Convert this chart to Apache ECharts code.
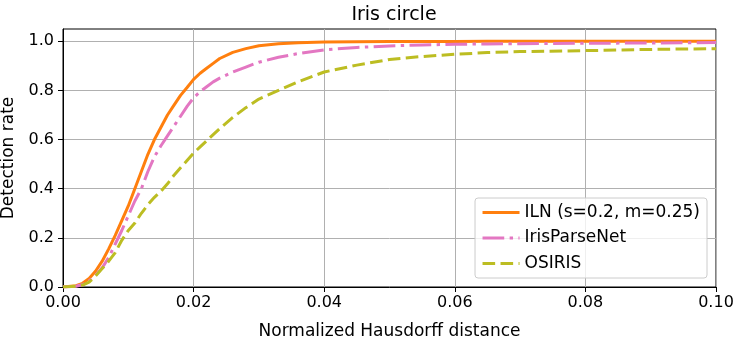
<!DOCTYPE html>
<html>
<head>
<meta charset="utf-8">
<script src="https://cdn.jsdelivr.net/npm/echarts@6/dist/echarts.min.js"></script>
<style>
  html, body { margin: 0; padding: 0; background: #fff; }
  #chart { width: 739px; height: 339px; }
</style>
</head>
<body>
<div id="chart"></div>
<script>
// values
const distance = [0, 0.002, 0.003, 0.004, 0.005, 0.006, 0.007, 0.008, 0.009, 0.010,
    0.011, 0.012, 0.013, 0.014, 0.015, 0.016, 0.017, 0.018, 0.019, 0.020,
    0.021, 0.022, 0.023, 0.024, 0.026, 0.028, 0.030, 0.033, 0.036, 0.040,
    0.045, 0.050, 0.055, 0.060, 0.065, 0.070, 0.080, 0.090, 0.100]
const iln = [0, 0.005, 0.015, 0.035, 0.065, 0.105, 0.155, 0.21, 0.27, 0.33,
    0.40, 0.47, 0.54, 0.60, 0.65, 0.70, 0.74, 0.78, 0.812, 0.845,
    0.87, 0.89, 0.91, 0.93, 0.955, 0.97, 0.982, 0.99, 0.994, 0.997,
    0.998, 0.999, 0.999, 0.999, 1.0, 1.0, 1.0, 1.0, 1.0]
const irisParseNet = [0, 0.003, 0.01, 0.025, 0.048, 0.078, 0.12, 0.175, 0.23, 0.29,
    0.35, 0.40, 0.47, 0.53, 0.575, 0.615, 0.655, 0.695, 0.735, 0.77,
    0.795, 0.815, 0.835, 0.85, 0.875, 0.895, 0.915, 0.935, 0.95, 0.965,
    0.975, 0.981, 0.985, 0.988, 0.989, 0.99, 0.992, 0.993, 0.995]
const osiris = [0, 0.003, 0.008, 0.02, 0.045, 0.075, 0.105, 0.14, 0.19, 0.23,
    0.26, 0.30, 0.335, 0.365, 0.39, 0.42, 0.455, 0.485, 0.515, 0.545,
    0.57, 0.595, 0.62, 0.645, 0.69, 0.73, 0.765, 0.80, 0.835, 0.875,
    0.903, 0.926, 0.938, 0.947, 0.954, 0.958, 0.962, 0.967, 0.97]
const xTicks = [0, 0.02, 0.04, 0.06, 0.08, 0.1]
const yTicks = [0, 0.2, 0.4, 0.6, 0.8, 1.0]

const font = 'DejaVu Sans'
const pairs = (ys) => distance.map((x, i) => [x, ys[i]])

const chart = echarts.init(document.getElementById('chart'))

const option = {
    animation: false,
    title: {
        text: 'Iris circle',
        left: 389,
        top: 1,
        textAlign: 'center',
        textStyle: { fontFamily: font, fontSize: 19, fontWeight: 'normal', color: '#000' },
    },
    grid: {
        left: 63,
        right: 23,
        top: 29,
        bottom: 52,
        outerBoundsMode: 'none',
        show: true,
        borderColor: '#000',
        borderWidth: 1,
    },
    legend: {
        orient: 'vertical',
        right: 32,
        top: 198,
        padding: [6, 7, 6, 6],
        itemWidth: 37,
        itemHeight: 14,
        itemGap: 8.5,
        itemStyle: { opacity: 0 },
        lineStyle: { width: 3 },
        backgroundColor: 'rgba(255,255,255,0.8)',
        borderColor: '#cccccc',
        borderWidth: 1,
        borderRadius: 3,
        textStyle: { fontFamily: font, fontSize: 17, color: '#000', lineHeight: 17 },
    },
    xAxis: {
        type: 'value',
        min: 0,
        max: 0.1,
        interval: 0.02,
        name: 'Normalized Hausdorff distance',
        nameLocation: 'middle',
        nameGap: 36,
        nameTextStyle: { fontFamily: font, fontSize: 17, color: '#000' },
        axisLine: { show: true, lineStyle: { color: '#000', width: 1 } },
        axisTick: { show: true, inside: false, length: 5, lineStyle: { color: '#000' }, customValues: xTicks },
        axisLabel: {
            fontFamily: font, fontSize: 16, color: '#000', margin: 8,
            customValues: xTicks,
            formatter: (v) => v.toFixed(2),
        },
        splitLine: { show: true, lineStyle: { color: '#b0b0b0', width: 1 } },
    },
    yAxis: {
        type: 'value',
        min: 0,
        max: 1.05,
        interval: 0.2,
        name: 'Detection rate',
        nameLocation: 'middle',
        nameGap: 46,
        nameTextStyle: { fontFamily: font, fontSize: 17, color: '#000' },
        axisLine: { show: true, lineStyle: { color: '#000', width: 1 } },
        axisTick: { show: true, inside: false, length: 5, lineStyle: { color: '#000' }, customValues: yTicks },
        axisLabel: {
            fontFamily: font, fontSize: 16, color: '#000', margin: 9,
            customValues: yTicks,
            formatter: (v) => v.toFixed(1),
        },
        splitLine: { show: true, lineStyle: { color: '#b0b0b0', width: 1 } },
    },
    series: [
        {
            name: 'ILN (s=0.2, m=0.25)',
            type: 'line',
            symbol: 'none',
            data: pairs(iln),
            lineStyle: { color: '#ff7f0e', width: 3 },
            itemStyle: { color: '#ff7f0e' },
        },
        {
            name: 'IrisParseNet',
            type: 'line',
            symbol: 'none',
            data: pairs(irisParseNet),
            lineStyle: { color: '#e377c2', width: 3, type: [21.7, 5.4, 3.4, 5.4], cap: 'butt' },
            itemStyle: { color: '#e377c2' },
        },
        {
            name: 'OSIRIS',
            type: 'line',
            symbol: 'none',
            data: pairs(osiris),
            lineStyle: { color: '#bcbd22', width: 3, type: [12.6, 5.4], cap: 'butt' },
            itemStyle: { color: '#bcbd22' },
        },
    ],
}

chart.setOption(option)
</script>
</body>
</html>
